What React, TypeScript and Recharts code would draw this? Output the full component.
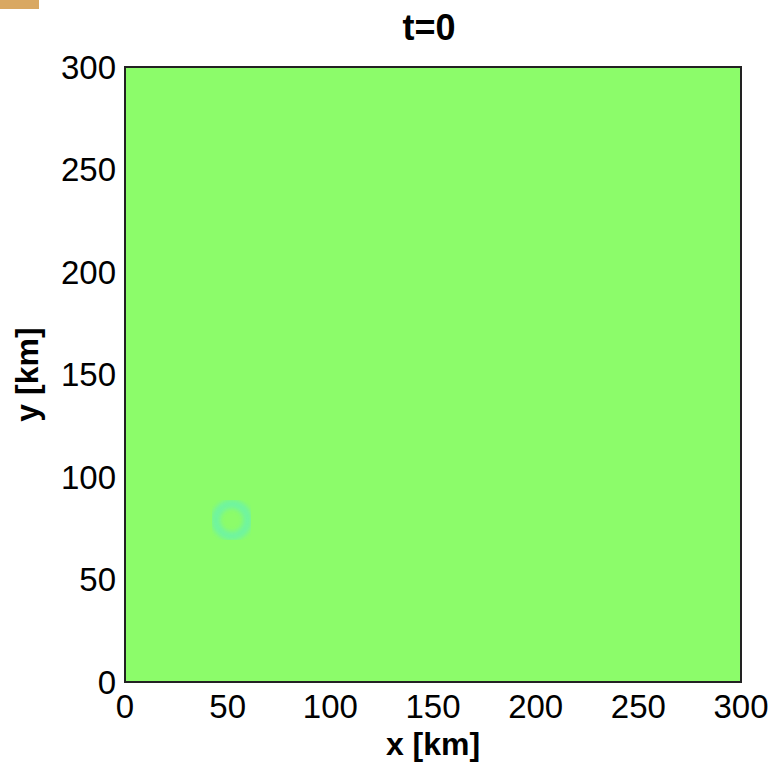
import { ReferenceArea, Scatter, ScatterChart, XAxis, YAxis } from "recharts";

const xTicks = [0, 50, 100, 150, 200, 250, 300];
const yTicks = [0, 50, 100, 150, 200, 250, 300];
const domainKm = [0, 300];
const title = "t=0";
const xLabel = "x [km]";
const yLabel = "y [km]";
// initial disturbance ring (km)
const rings = [{ x: 52, y: 79 }];

const FONT = "Liberation Sans, Arial, sans-serif";

function Ring(props: any) {
  const { cx, cy } = props;
  return (
    <circle cx={cx} cy={cy} r={16} fill="none" stroke="#68f2b0" strokeWidth={9} opacity={0.75} filter="url(#blur)" />
  );
}

export default function App() {
  return (
    <div style={{ position: "absolute", left: 0, top: 0, width: 769, height: 765, background: "#fff" }}>
      <div style={{ position: "absolute", left: 0, top: 0, width: 39, height: 9, background: "#d9a862" }} />
      <ScatterChart width={769} height={765} margin={{ top: 67, right: 28, left: 0, bottom: 0 }}>
        <defs>
          <filter id="blur">
            <feGaussianBlur stdDeviation="2.2" />
          </filter>
        </defs>
        <text x={429} y={40} textAnchor="middle" fontFamily={FONT} fontWeight="bold" fontSize={36} fill="#000">
          {title}
        </text>
        <XAxis
          type="number"
          dataKey="x"
          domain={domainKm}
          ticks={xTicks}
          height={83}
          axisLine={false}
          tickLine={false}
          tickSize={0}
          tickMargin={13}
          allowDataOverflow
          tick={{ fill: "#000", fontSize: 33, fontFamily: FONT }}
          label={{ value: xLabel, position: "insideBottom", offset: 10, fill: "#000", fontSize: 32, fontWeight: "bold", fontFamily: FONT }}
        />
        <YAxis
          type="number"
          dataKey="y"
          domain={domainKm}
          ticks={yTicks}
          width={125}
          axisLine={false}
          tickLine={false}
          tickSize={0}
          tickMargin={9}
          allowDataOverflow
          tick={{ fill: "#000", fontSize: 33, fontFamily: FONT }}
          label={{ value: yLabel, angle: -90, position: "insideLeft", offset: 27, fill: "#000", fontSize: 32, fontWeight: "bold", fontFamily: FONT, style: { textAnchor: "middle" } }}
        />
        <ReferenceArea x1={0} x2={300} y1={0} y2={300} fill="#8cfc6a" fillOpacity={1} stroke="#222" strokeWidth={2} />
        <Scatter data={rings} shape={<Ring />} isAnimationActive={false} />
      </ScatterChart>
    </div>
  );
}
